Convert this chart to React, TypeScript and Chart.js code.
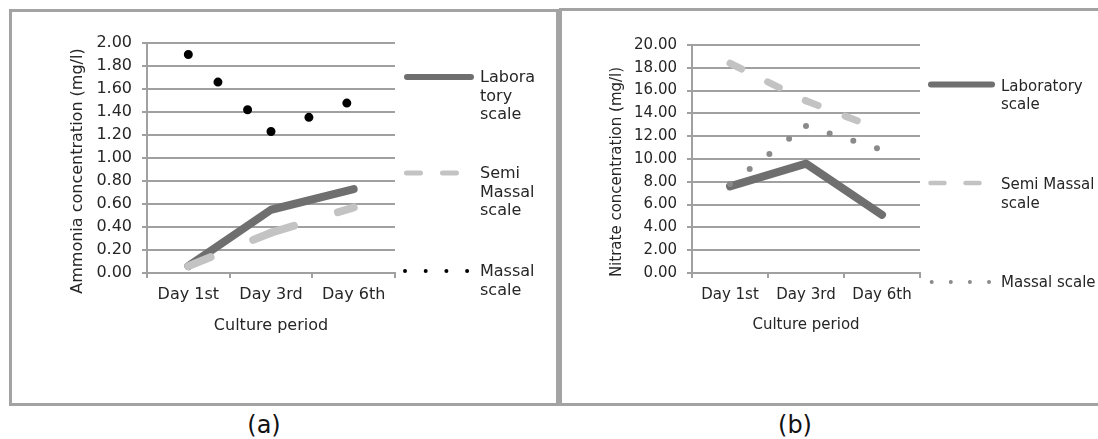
import React, { useEffect, useRef } from "react";
import { Chart, registerables } from "chart.js";
Chart.register(...registerables);

const FONT = "'DejaVu Sans', Verdana, sans-serif";
const TEXT = "#262626";
const GRID = "#a0a0a0";
const LAB_COLOR = "#6f6f6f";
const SEMI_COLOR = "#c3c3c3";

// ---------------- data ----------------
const categories = ["Day 1st", "Day 3rd", "Day 6th"];
const seriesNames = ["Laboratory scale", "Semi Massal scale", "Massal scale"];

const ammoniaLab = [0.06, 0.55, 0.73];
const ammoniaSemiMassal = [0.06, 0.35, 0.57];
const ammoniaMassal = [1.9, 1.23, 1.5];
const ammoniaTicks = [0, 0.2, 0.4, 0.6, 0.8, 1.0, 1.2, 1.4, 1.6, 1.8, 2.0];

const nitrateLab = [7.6, 9.6, 5.1];
const nitrateSemiMassal = [18.4, 15.1, 12.5];
const nitrateMassal = [7.8, 12.9, 10.8];
const nitrateTicks = [0, 2, 4, 6, 8, 10, 12, 14, 16, 18, 20];

const ammoniaLegendLines = [["Labora", "tory", "scale"], ["Semi", "Massal", "scale"], ["Massal", "scale"]];
const nitrateLegendLines = [["Laboratory", "scale"], ["Semi Massal", "scale"], ["Massal scale"]];

// restart the dash pattern at every data point (as the original renderer does):
// a whole-period offset keeps the pattern identical but splits the path per segment
const restartDash = (dash: number[]) => {
  const period = dash.reduce((a, b) => a + b, 0);
  return { borderDashOffset: (ctx: any) => ctx.p0DataIndex * period };
};

function overlayPlugin(o: any) {
  return {
    id: "overlay",
    afterDraw(chart: any) {
      const ctx = chart.ctx as CanvasRenderingContext2D;
      ctx.save();
      ctx.font = `${o.yTitle.size}px ${FONT}`;
      ctx.fillStyle = TEXT;
      ctx.textAlign = "center";
      ctx.textBaseline = "middle";
      ctx.translate(o.yTitle.x, o.yTitle.y);
      ctx.rotate(-Math.PI / 2);
      ctx.fillText(o.yTitle.text, 0, 0);
      ctx.restore();
      for (const it of o.legend) {
        ctx.save();
        ctx.strokeStyle = it.color;
        ctx.lineWidth = it.width;
        ctx.lineCap = "round";
        ctx.setLineDash(it.dash);
        ctx.beginPath();
        ctx.moveTo(it.x0, it.y);
        ctx.lineTo(it.x1, it.y);
        ctx.stroke();
        ctx.setLineDash([]);
        ctx.font = `${o.legendSize}px ${FONT}`;
        ctx.fillStyle = TEXT;
        ctx.textAlign = "left";
        ctx.textBaseline = "middle";
        it.lines.forEach((s: string, i: number) => ctx.fillText(s, it.tx, it.ty + i * it.lh));
        ctx.restore();
      }
    },
  };
}

function makeConfig(p: any) {
  return {
    type: "line",
    data: {
      labels: categories,
      datasets: [
        {
          label: seriesNames[0],
          data: p.lab,
          borderColor: LAB_COLOR,
          borderWidth: p.labWidth,
          borderCapStyle: "round",
          borderJoinStyle: "round",
          pointRadius: 0,
          order: 3,
        },
        {
          label: seriesNames[1],
          data: p.semi,
          borderColor: SEMI_COLOR,
          borderWidth: p.semiWidth,
          borderDash: p.semiDash,
          borderCapStyle: "round",
          pointRadius: 0,
          order: 2,
          segment: restartDash(p.semiDash),
        },
        {
          label: seriesNames[2],
          data: p.massal,
          borderColor: p.massalColor,
          borderWidth: p.massalWidth,
          borderDash: p.massalDash,
          borderCapStyle: "round",
          pointRadius: 0,
          order: 1,
          segment: restartDash(p.massalDash),
        },
      ],
    },
    options: {
      animation: false,
      responsive: false,
      events: [],
      layout: { padding: p.padding },
      plugins: { legend: { display: false }, tooltip: { enabled: false } },
      scales: {
        x: {
          type: "category",
          offset: true,
          grid: { offset: true, drawOnChartArea: false, drawTicks: true, tickLength: 5, color: GRID, lineWidth: 2 },
          border: { color: GRID, width: 2 },
          ticks: { color: TEXT, font: { size: p.fontSize, family: FONT }, padding: p.xTickPad, maxRotation: 0, autoSkip: false },
          title: {
            display: true,
            text: "Culture period",
            color: TEXT,
            font: { size: p.fontSize, family: FONT },
            padding: { top: 0, bottom: p.xTitlePad },
          },
          afterFit: (s: any) => { s.height = p.xHeight; },
        },
        y: {
          min: p.ticks[0],
          max: p.ticks[p.ticks.length - 1],
          afterBuildTicks: (s: any) => { s.ticks = p.ticks.map((v: number) => ({ value: v })); },
          grid: { color: GRID, lineWidth: 2, tickLength: 5 },
          border: { color: GRID, width: 2 },
          ticks: { color: TEXT, font: { size: p.fontSize, family: FONT }, padding: 10, callback: (v: any) => Number(v).toFixed(2) },
          afterFit: (s: any) => { s.width = p.yWidth; },
        },
      },
    },
    plugins: [overlayPlugin(p.overlay)],
  };
}

const configA = () =>
  makeConfig({
    lab: ammoniaLab,
    semi: ammoniaSemiMassal,
    massal: ammoniaMassal,
    ticks: ammoniaTicks,
    labWidth: 8,
    semiWidth: 8,
    semiDash: [24, 46],
    massalColor: "#000000",
    massalWidth: 9,
    massalDash: [0, 40.5],
    fontSize: 16,
    xTickPad: 7,
    xTitlePad: 65,
    xHeight: 127,
    yWidth: 147,
    padding: { left: 0, top: 43, right: 161, bottom: 0 },
    overlay: {
      yTitle: { text: "Ammonia concentration (mg/l)", x: 78, y: 171, size: 16 },
      legendSize: 16,
      legend: [
        { color: LAB_COLOR, width: 6, dash: [], x0: 407, x1: 471, y: 77, lines: ammoniaLegendLines[0], tx: 480, ty: 78, lh: 18.5 },
        { color: SEMI_COLOR, width: 5, dash: [14, 22], x0: 406.5, x1: 472, y: 173, lines: ammoniaLegendLines[1], tx: 480, ty: 174, lh: 18.5 },
        { color: "#000000", width: 4, dash: [0, 20.7], x0: 405, x1: 468, y: 271, lines: ammoniaLegendLines[2], tx: 480, ty: 272, lh: 19 },
      ],
    },
  });

const configB = () =>
  makeConfig({
    lab: nitrateLab,
    semi: nitrateSemiMassal,
    massal: nitrateMassal,
    ticks: nitrateTicks,
    labWidth: 8,
    semiWidth: 7,
    semiDash: [13, 29],
    massalColor: "#8a8a8a",
    massalWidth: 6,
    massalDash: [0, 24.8],
    fontSize: 15,
    xTickPad: 8,
    xTitlePad: 66,
    xHeight: 127,
    yWidth: 132,
    padding: { left: 0, top: 45, right: 178, bottom: 0 },
    overlay: {
      yTitle: { text: "Nitrate concentration (mg/l)", x: 57, y: 172, size: 15 },
      legendSize: 15,
      legend: [
        { color: LAB_COLOR, width: 6, dash: [], x0: 371, x1: 432, y: 84.5, lines: nitrateLegendLines[0], tx: 441, ty: 87, lh: 18 },
        { color: SEMI_COLOR, width: 4.5, dash: [14, 21], x0: 370.5, x1: 435, y: 183, lines: nitrateLegendLines[1], tx: 441, ty: 185, lh: 19 },
        { color: "#8a8a8a", width: 4, dash: [0, 19.1], x0: 371.7, x1: 430, y: 282, lines: nitrateLegendLines[2], tx: 441, ty: 283, lh: 18 },
      ],
    },
  });

function ChartCanvas({ makeCfg, left, width, height }: any) {
  const ref = useRef<HTMLCanvasElement>(null);
  useEffect(() => {
    const chart = new Chart(ref.current as HTMLCanvasElement, makeCfg() as any);
    return () => chart.destroy();
  }, []);
  return (
    <canvas
      ref={ref}
      width={width}
      height={height}
      style={{ position: "absolute", left, top: 0, width, height }}
    />
  );
}

export default function App() {
  const panel = (left: number, top: number, width: number, height: number) => ({
    position: "absolute" as const,
    left,
    top,
    width,
    height,
    boxSizing: "border-box" as const,
    border: "3px solid #a3a3a3",
  });
  const caption = (cx: number) => ({
    position: "absolute" as const,
    left: cx - 40,
    width: 80,
    top: 411,
    textAlign: "center" as const,
    fontFamily: FONT,
    fontSize: 24,
    lineHeight: "28px",
    color: "#111",
  });
  return (
    <div style={{ position: "absolute", left: 0, top: 0, width: 1098, height: 439, background: "#fff", overflow: "hidden" }}>
      <div style={panel(9, 9, 550, 397)} />
      <div style={panel(559, 8, 545, 398)} />
      <ChartCanvas makeCfg={configA} left={0} width={556} height={400} />
      <ChartCanvas makeCfg={configB} left={560} width={538} height={400} />
      <div style={caption(264)}>(a)</div>
      <div style={caption(795)}>(b)</div>
    </div>
  );
}
